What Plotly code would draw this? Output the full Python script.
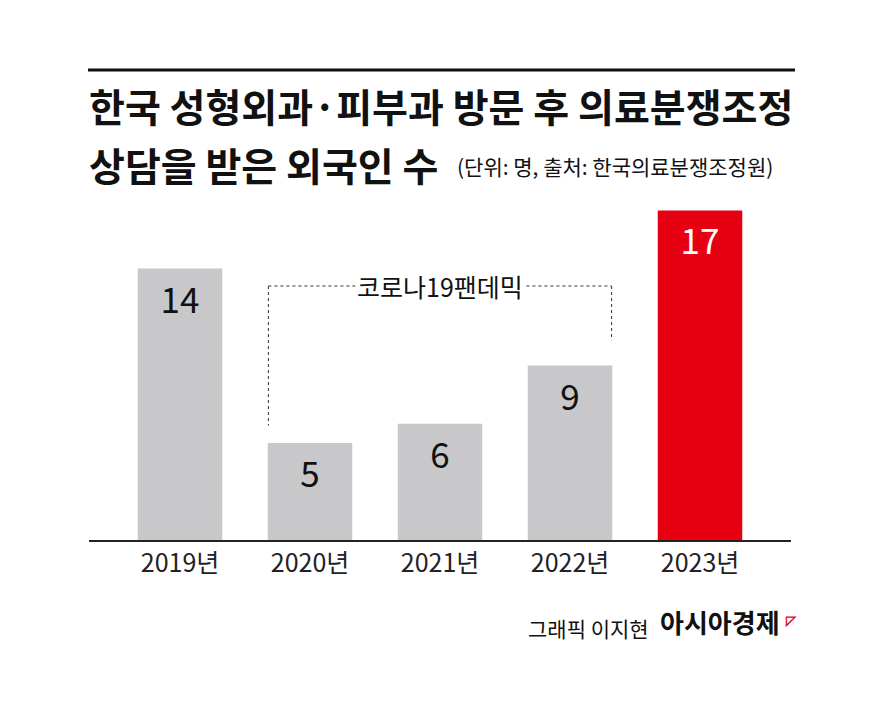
import plotly.graph_objects as go

years = ["2019년", "2020년", "2021년", "2022년", "2023년"]
counts = [14, 5, 6, 9, 17]
bar_colors = ["#c8c8ca", "#c8c8ca", "#c8c8ca", "#c8c8ca", "#e60012"]
text_colors = ["#111111", "#111111", "#111111", "#111111", "#ffffff"]

W, H = 887, 710
FONT = "Noto Sans CJK KR"

fig = go.Figure(go.Bar(
    x=list(range(len(years))), y=counts, marker=dict(color=bar_colors, line_width=0),
    width=0.65, text=[str(c) for c in counts], textposition="inside",
    insidetextanchor="end", textangle=0, constraintext="none",
    textfont=dict(size=35, color=text_colors, family=FONT),
))

# page renders with an 8px offset, compensate
def px_x(p): return (p - 8) / W
def px_y(p): return 1 - (p - 8) / H

fig.update_layout(
    width=W, height=H, margin=dict(l=0, r=0, t=0, b=0),
    plot_bgcolor="white", paper_bgcolor="white", showlegend=False,
    font=dict(family=FONT, color="#111111"),
    xaxis=dict(domain=[px_x(89), px_x(791)], range=[-0.7, 4.7],
               tickvals=list(range(5)), ticktext=years, showgrid=False,
               showline=True, linecolor="#222", linewidth=2, ticks="",
               tickfont=dict(size=25, color="#222")),
    yaxis=dict(domain=[px_y(540), px_y(191)], range=[0, 18], visible=False),
    uniformtext=dict(minsize=35, mode="show"),
)

# top rule
fig.add_shape(type="line", xref="paper", yref="paper", x0=px_x(88), x1=px_x(795),
              y0=px_y(70), y1=px_y(70), line=dict(color="#111", width=3))

# pandemic bracket
dot = dict(color="#333", width=1, dash="dot")
fig.add_shape(type="line", x0=0.68, x1=3.32, y0=13.1, y1=13.1, line=dot)
fig.add_shape(type="line", x0=0.68, x1=0.68, y0=13.1, y1=5.9, line=dot)
fig.add_shape(type="line", x0=3.32, x1=3.32, y0=13.1, y1=10.3, line=dot)
fig.add_annotation(x=2, y=13.1, text="코로나19팬데믹", showarrow=False,
                   bgcolor="white", font=dict(size=25, color="#111"))

fig.add_annotation(xref="paper", yref="paper", x=px_x(87), y=px_y(75), xanchor="left",
                   text="<b>한국 성형외과·피부과 방문 후 의료분쟁조정</b>", showarrow=False,
                   font=dict(size=39, color="#111"))
fig.add_annotation(xref="paper", yref="paper", x=px_x(87), y=px_y(134), xanchor="left",
                   text="<b>상담을 받은 외국인 수</b>", showarrow=False,
                   font=dict(size=39, color="#111"))
fig.add_annotation(xref="paper", yref="paper", x=px_x(455), y=px_y(149), xanchor="left",
                   text="(단위: 명, 출처: 한국의료분쟁조정원)", showarrow=False,
                   font=dict(size=21, color="#111"))

fig.add_annotation(xref="paper", yref="paper", x=px_x(651), y=px_y(645), xanchor="right",
                   text="그래픽 이지현", showarrow=False, font=dict(size=21, color="#111"))
fig.add_annotation(xref="paper", yref="paper", x=px_x(658), y=px_y(642), xanchor="left",
                   text="<b>아시아경제</b>", showarrow=False, font=dict(size=26, color="#111"))
fig.add_annotation(xref="paper", yref="paper", x=px_x(783), y=px_y(631), xanchor="left",
                   text="<b>◸</b>", showarrow=False, font=dict(size=13, color="#e60012"))

fig.write_html("out.html")
